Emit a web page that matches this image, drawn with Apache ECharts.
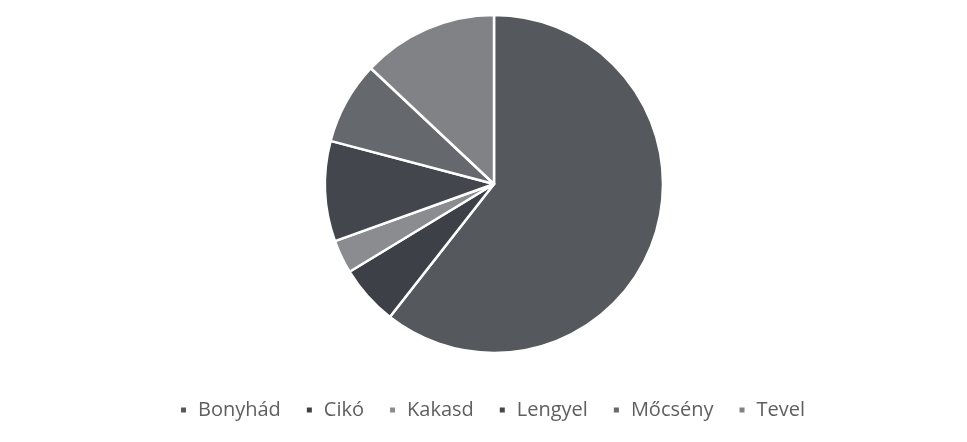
<!DOCTYPE html>
<html>
<head>
<meta charset="utf-8">
<script src="https://cdn.jsdelivr.net/npm/echarts@6/dist/echarts.min.js"></script>
<style>html,body{margin:0;padding:0;background:#fff}#c{width:967px;height:442px}</style>
</head>
<body>
<div id="c"></div>
<script>
var categories = ["Bonyhád", "Cikó", "Kakasd", "Lengyel", "Mőcsény", "Tevel"];
var values = [60.6, 5.75, 3.2, 9.6, 7.9, 13.0];
var colors = ["#55585d", "#3d4147", "#8a8c90", "#43474d", "#65686d", "#808286"];

var chart = echarts.init(document.getElementById('c'));
chart.setOption({
  backgroundColor: '#ffffff',
  animation: false,
  color: colors,
  legend: {
    data: categories,
    left: 174,
    top: 395,
    icon: 'rect',
    itemWidth: 7,
    itemHeight: 7,
    itemGap: 24,
    textStyle: { fontFamily: 'Open Sans', fontSize: 20, color: '#5f5f5f', padding: [0, 0, 0, 6] }
  },
  series: [{
    type: 'pie',
    center: [494, 184],
    radius: 169,
    startAngle: 90,
    clockwise: true,
    label: { show: false },
    labelLine: { show: false },
    itemStyle: { borderColor: '#ffffff', borderWidth: 2.5 },
    emphasis: { disabled: true },
    data: categories.map(function (n, i) { return { name: n, value: values[i] }; })
  }]
});
</script>
</body>
</html>
